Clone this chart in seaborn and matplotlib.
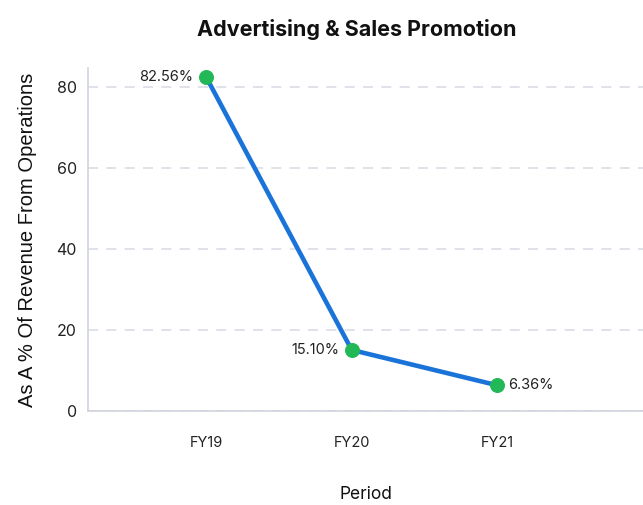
import matplotlib
matplotlib.use("Agg")
import matplotlib.pyplot as plt
import seaborn as sns
import pandas as pd

periods = ["FY19", "FY20", "FY21"]
values = [82.56, 15.10, 6.36]
labels = ["82.56%", "15.10%", "6.36%"]
label_side = ["left", "left", "right"]

sns.set_theme(style="white")
plt.rcParams['font.family'] = ['Inter', 'DejaVu Sans']

df = pd.DataFrame({"Period": periods, "Value": values})

fig = plt.figure(figsize=(6.43, 5.05), dpi=100)
ax = fig.add_axes([0.137, 0.186, 0.863, 0.679])

sns.lineplot(data=df, x="Period", y="Value", ax=ax, color="#1a73d9", linewidth=3.3,
             marker="o", markersize=10, markerfacecolor="#22b858", markeredgecolor="#22b858",
             sort=False, zorder=3)

for i, (v, lab, side) in enumerate(zip(values, labels, label_side)):
    if side == "left":
        ax.annotate(lab, (i, v), xytext=(-9, 0), textcoords="offset points",
                    ha="right", va="center", fontsize=10.5, color="#222222")
    else:
        ax.annotate(lab, (i, v), xytext=(8, 0), textcoords="offset points",
                    ha="left", va="center", fontsize=10.5, color="#222222")

ax.set_xlim(-0.81, 3.0)
ax.set_ylim(0, 84.7)
ax.set_yticks([0, 20, 40, 60, 80])
ax.yaxis.grid(True, linestyle=(0, (6, 5)), color="#d9dde5", linewidth=1.2)
ax.xaxis.grid(False)
for s in ["top", "right"]:
    ax.spines[s].set_visible(False)
for s in ["left", "bottom"]:
    ax.spines[s].set_color("#cfd3dc")
    ax.spines[s].set_linewidth(1.2)
ax.tick_params(axis="x", length=0, pad=18, labelsize=10.5, labelcolor="#222222")
ax.tick_params(axis="y", length=0, pad=8, labelsize=11.5, labelcolor="#222222")
ax.set_xlabel("Period", fontsize=12.5, labelpad=26, color="#111111")
ax.set_ylabel("As A % Of Revenue From Operations", fontsize=14.5, labelpad=14,
              color="#111111", family=["Liberation Sans", "DejaVu Sans"])
fig.suptitle("Advertising & Sales Promotion", x=0.555, y=0.962, fontsize=15.5,
             fontweight="bold", color="#111111")

fig.savefig("out.png", dpi=100)
